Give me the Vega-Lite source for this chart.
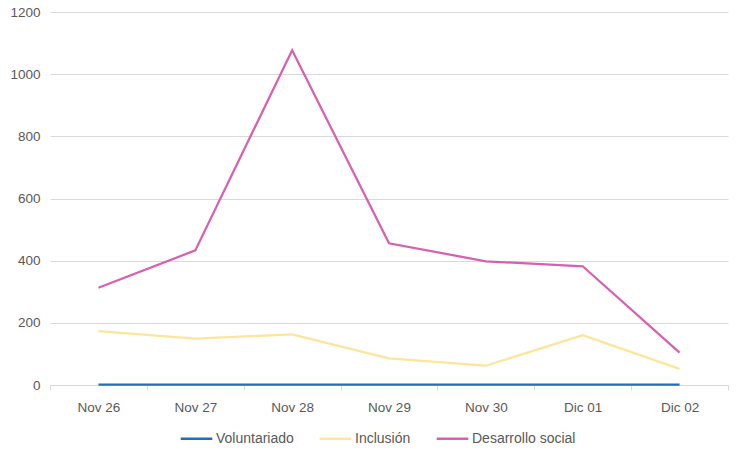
{
  "$schema": "https://vega.github.io/schema/vega-lite/v6.json",
  "autosize": "none",
  "width": 678,
  "height": 373,
  "padding": {"left": 50, "top": 12, "right": 9, "bottom": 75},
  "background": "white",
  "config": {
    "view": {"stroke": null},
    "font": "Liberation Sans",
    "axis": {"labelFont": "Liberation Sans", "labelColor": "#595959", "labelFontSize": 13.5}
  },
  "data": {
    "values": [
      {"fecha": "Nov 26", "serie": "Voluntariado", "valor": 1},
      {"fecha": "Nov 27", "serie": "Voluntariado", "valor": 1},
      {"fecha": "Nov 28", "serie": "Voluntariado", "valor": 1},
      {"fecha": "Nov 29", "serie": "Voluntariado", "valor": 1},
      {"fecha": "Nov 30", "serie": "Voluntariado", "valor": 1},
      {"fecha": "Dic 01", "serie": "Voluntariado", "valor": 1},
      {"fecha": "Dic 02", "serie": "Voluntariado", "valor": 1},
      {"fecha": "Nov 26", "serie": "Inclusión", "valor": 173},
      {"fecha": "Nov 27", "serie": "Inclusión", "valor": 149},
      {"fecha": "Nov 28", "serie": "Inclusión", "valor": 163},
      {"fecha": "Nov 29", "serie": "Inclusión", "valor": 86},
      {"fecha": "Nov 30", "serie": "Inclusión", "valor": 62},
      {"fecha": "Dic 01", "serie": "Inclusión", "valor": 160},
      {"fecha": "Dic 02", "serie": "Inclusión", "valor": 52},
      {"fecha": "Nov 26", "serie": "Desarrollo social", "valor": 313},
      {"fecha": "Nov 27", "serie": "Desarrollo social", "valor": 433},
      {"fecha": "Nov 28", "serie": "Desarrollo social", "valor": 1077},
      {"fecha": "Nov 29", "serie": "Desarrollo social", "valor": 456},
      {"fecha": "Nov 30", "serie": "Desarrollo social", "valor": 398},
      {"fecha": "Dic 01", "serie": "Desarrollo social", "valor": 382},
      {"fecha": "Dic 02", "serie": "Desarrollo social", "valor": 104}
    ]
  },
  "mark": {"type": "line", "strokeWidth": 2.25},
  "encoding": {
    "x": {
      "field": "fecha",
      "type": "ordinal",
      "sort": null,
      "bandPosition": 0.5,
      "scale": {"type": "band", "paddingInner": 0, "paddingOuter": 0},
      "axis": {
        "title": null,
        "labelAngle": 0,
        "tickBand": "extent",
        "domainColor": "#d9d9d9",
        "tickColor": "#d9d9d9",
        "tickSize": 5,
        "labelPadding": 10,
        "grid": false
      }
    },
    "y": {
      "field": "valor",
      "type": "quantitative",
      "scale": {"domain": [0, 1200]},
      "axis": {
        "title": null,
        "values": [0, 200, 400, 600, 800, 1000, 1200],
        "format": "d",
        "domain": false,
        "ticks": false,
        "labelPadding": 10,
        "gridColor": "#d9d9d9",
        "gridWidth": 1
      }
    },
    "color": {
      "field": "serie",
      "type": "nominal",
      "sort": ["Voluntariado", "Inclusión", "Desarrollo social"],
      "scale": {
        "domain": ["Voluntariado", "Inclusión", "Desarrollo social"],
        "range": ["#1f6fc0", "#fde59a", "#d95fb0"]
      },
      "legend": {
        "title": null,
        "orient": "none",
        "direction": "horizontal",
        "legendX": 129,
        "legendY": 409,
        "symbolType": "stroke",
        "symbolStrokeWidth": 2.5,
        "symbolSize": 1000,
        "labelFontSize": 14,
        "labelColor": "#595959",
        "labelFont": "Liberation Sans",
        "columnPadding": 20,
        "labelOffset": 2
      }
    }
  }
}
